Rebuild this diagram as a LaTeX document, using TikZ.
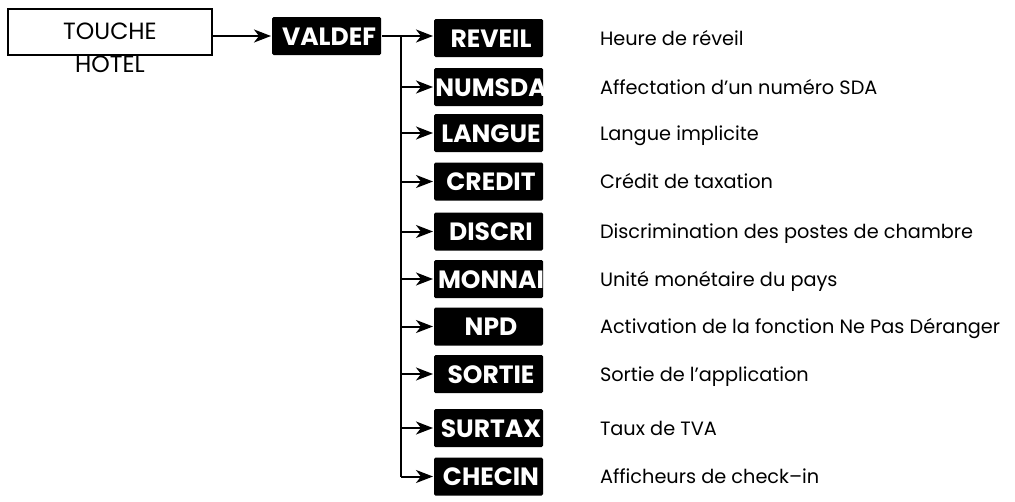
\documentclass[tikz,border=0pt]{standalone}
\usepackage{fontspec}
\setmainfont{Poppins}
\usetikzlibrary{arrows.meta}
\begin{document}
\begin{tikzpicture}[x=1pt,y=-1pt,
  line width=2pt,
  arr/.style={-{Stealth[length=17pt,width=13pt,inset=5pt]}, line width=2pt},
  keybox/.style={fill=black, rounded corners=1.5pt, minimum width=109pt, minimum height=38pt, inner sep=0pt,
    path picture={\node[text=white, font=\bfseries\fontsize{25}{25}\selectfont, inner sep=0pt]
      at ([xshift=2.5pt,yshift=-0.5pt]path picture bounding box.center) {#1};}},
  desc/.style={anchor=base west, inner sep=0pt, font=\fontsize{19.3}{19.3}\selectfont}
]
\useasboundingbox (0,0) rectangle (1015,501);

\node[draw=black, line width=2pt, minimum width=204pt, minimum height=46pt, inner sep=0pt] (touche) at (110,31.5) {};
\node[inner sep=0pt, font=\fontsize{23.5}{33}\selectfont, align=center, anchor=base] (touchetxt) at (110,72) {TOUCHE\\HOTEL};

\node[keybox=VALDEF] (valdef) at (326.5,36) {};

\node[keybox=REVEIL] (k1) at (488.5,38) {};
\node[keybox=NUMSDA] (k2) at (488.5,87) {};
\node[keybox=LANGUE] (k3) at (488.5,133) {};
\node[keybox=CREDIT] (k4) at (488.5,181.5) {};
\node[keybox=DISCRI] (k5) at (488.5,231.5) {};
\node[keybox=MONNAI] (k6) at (488.5,279) {};
\node[keybox=NPD] (k7) at (488.5,326.5) {};
\node[keybox=SORTIE] (k8) at (488.5,374) {};
\node[keybox=SURTAX] (k9) at (488.5,428) {};
\node[keybox=CHECIN] (k10) at (488.5,476.5) {};

\node[desc] (d1) at (599,45) {Heure de réveil};
\node[desc] (d2) at (599,94) {Affectation d’un numéro SDA};
\node[desc] (d3) at (599,140) {Langue implicite};
\node[desc] (d4) at (599,188.5) {Crédit de taxation};
\node[desc] (d5) at (599,238.5) {Discrimination des postes de chambre};
\node[desc] (d6) at (599,286) {Unité monétaire du pays};
\node[desc] (d7) at (599,333.5) {Activation de la fonction Ne Pas Déranger};
\node[desc] (d8) at (599,381) {Sortie de l’application};
\node[desc] (d9) at (599,435) {Taux de TVA};
\node[desc] (d10) at (599,483.5) {Afficheurs de check–in};

\coordinate (top) at (401,36);
\draw[arr] (touche.east |- valdef.west) -- (valdef.west);
\draw[arr] (valdef.east) -- (k1.west |- valdef.east);
\draw (top) -- (top |- k10.west);
\foreach \i in {2,...,10} {
  \draw[arr] (top |- k\i.west) -- (k\i.west);
}
\end{tikzpicture}
\end{document}
